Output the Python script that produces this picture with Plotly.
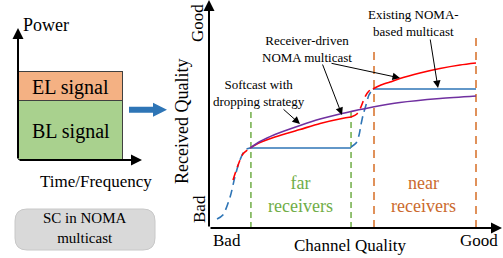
import plotly.graph_objects as go

# ---------------- data (conceptual units) ----------------
# left schematic: superposition coding power split
layer_names = ["BL signal", "EL signal"]
layer_power = [2.0, 1.0]
layer_colors = ["#A9D18E", "#F4B183"]

# main chart: channel quality (x) vs received quality (y)
blue_rise_x = [0.030, 0.052, 0.079, 0.097, 0.116, 0.135, 0.154]
blue_rise_y = [0.045, 0.065, 0.155, 0.255, 0.340, 0.390, 0.400]
red_rise_x = [0.090, 0.109, 0.127, 0.154]
red_rise_y = [0.240, 0.315, 0.370, 0.400]

blue_far_x = [0.154, 0.532]
blue_far_y = [0.400, 0.400]
red_far_x = [0.154, 0.191, 0.247, 0.341, 0.416, 0.498, 0.532]
red_far_y = [0.400, 0.4275, 0.455, 0.4925, 0.5225, 0.5475, 0.555]

blue_mid_x = [0.532, 0.551, 0.562, 0.569, 0.577, 0.588, 0.599, 0.614]
blue_mid_y = [0.405, 0.425, 0.465, 0.515, 0.565, 0.615, 0.665, 0.695]
red_mid_x = [0.532, 0.554, 0.569, 0.584, 0.599, 0.614]
red_mid_y = [0.555, 0.570, 0.605, 0.655, 0.685, 0.695]

blue_near_x = [0.614, 1.0]
blue_near_y = [0.695, 0.695]
red_near_x = [0.614, 0.640, 0.678, 0.715, 0.790, 0.865, 0.940, 1.0]
red_near_y = [0.695, 0.7125, 0.730, 0.7475, 0.775, 0.7975, 0.815, 0.825]

purple_x = [0.154, 0.191, 0.247, 0.341, 0.416, 0.498, 0.532, 0.614, 0.715, 0.865, 1.0]
purple_y = [0.400, 0.4325, 0.4675, 0.5125, 0.545, 0.5725, 0.5825, 0.605, 0.6275, 0.6475, 0.660]

far_bounds_x = [0.157, 0.532]
far_bounds_top = [0.600, 0.595]
near_bounds_x = [0.618, 1.0]
near_bounds_top = [0.905, 0.975]

# ---------------- styling helpers ----------------
W, H = 503, 258
FONT = "Liberation Serif, Times New Roman, DejaVu Serif, serif"
BLUE, RED, PURPLE = "#2E75B6", "#FF0000", "#7030A0"
GREEN, ORANGE, ORANGE_TXT = "#70AD47", "#E0915A", "#CB6A2E"
DY = 1  # text vertical nudge (px)


def X(px):
    return (px - 209) / 267


def Y(py):
    return (228 - py) / 200


def PX(px):
    return px / W


def PY(py):
    return 1 - py / H


fig = go.Figure()

# stacked power bars (left schematic)
for name, p, c in zip(layer_names, layer_power, layer_colors):
    fig.add_trace(go.Bar(x=[0.5], y=[p], width=[1], name=name,
                         marker=dict(color=c, line=dict(color="#404040", width=1.2)),
                         xaxis="x2", yaxis="y2", hoverinfo="skip"))


def line(x, y, color, dash="solid", width=1.6, shape="spline"):
    fig.add_trace(go.Scatter(x=x, y=y, mode="lines", xaxis="x", yaxis="y",
                             line=dict(color=color, width=width, dash=dash, shape=shape,
                                       smoothing=0.8),
                             hoverinfo="skip"))


# region boundaries
for bx, bt in zip(far_bounds_x, far_bounds_top):
    line([bx, bx], [0, bt], GREEN, dash="6px,4px", width=1.5, shape="linear")
for bx, bt in zip(near_bounds_x, near_bounds_top):
    line([bx, bx], [0, bt], ORANGE, dash="8px,6px", width=2, shape="linear")

line(blue_rise_x, blue_rise_y, BLUE, dash="8px,5px")
line(red_rise_x, red_rise_y, RED, dash="8px,5px")
line(blue_far_x, blue_far_y, BLUE, shape="linear")
line(red_far_x, red_far_y, RED)
line(blue_mid_x, blue_mid_y, BLUE, dash="8px,5px")
line(red_mid_x, red_mid_y, RED, dash="8px,5px")
line(blue_near_x, blue_near_y, BLUE, shape="linear")
line(red_near_x, red_near_y, RED)
line(purple_x, purple_y, PURPLE)

ann = []


def txt(text, px, py, size, color="black", angle=0, xanchor="center"):
    ann.append(dict(text=text, x=PX(px), y=PY(py + DY), xref="paper", yref="paper",
                    showarrow=False, textangle=angle, xanchor=xanchor, yanchor="middle",
                    font=dict(family=FONT, size=size, color=color)))


def arrow(x0, y0, x1, y1, xr, yr, width=1, size=1.5, head=2):
    ann.append(dict(text="", x=x1, y=y1, ax=x0, ay=y0, xref=xr, yref=yr,
                    axref=xr, ayref=yr, showarrow=True, arrowhead=head,
                    arrowsize=size, arrowwidth=width, arrowcolor="black", standoff=0))


# axes with arrowheads
arrow(0, 0, 0, Y(0), "x", "y", width=2, size=1.1)
arrow(0, 0, X(502), 0, "x", "y", width=2, size=1.1)
arrow(0, 0, 0, 4.475, "x2", "y2", width=2, size=1.1)
arrow(0, 0, (142 - 18) / 105, 0, "x2", "y2", width=2, size=1.1)

# callout arrows
arrow(X(282), Y(108), X(300), Y(124), "x", "y")
arrow(X(322), Y(63), X(342), Y(115), "x", "y")
arrow(X(330), Y(63), X(400), Y(78), "x", "y")
arrow(X(430), Y(38), X(438), Y(88), "x", "y")

# text inside bars, placed from the data
cum = 0
for name, p in zip(layer_names, layer_power):
    ann.append(dict(text=name, x=0.5, y=cum + p / 2, xref="x2", yref="y2", showarrow=False,
                    yshift=-DY,
                    font=dict(family=FONT, size=20, color="black")))
    cum += p

txt("Power", 21, 24, 18, xanchor="left")
txt("Time/Frequency", 96, 180, 17)
txt("SC in NOMA<br>multicast", 85, 226.5, 15)

txt("Good", 197, 22, 17, angle=-90)
txt("Received Quality", 182, 121, 18, angle=-90)
txt("Bad", 199, 208, 17, angle=-90)
txt("Bad", 227, 239, 17)
txt("Channel Quality", 350, 244, 17)
txt("Good", 479, 239, 17)

txt("far<br>receivers", 300, 193.5, 18, color=GREEN)
txt("near<br>receivers", 423, 193.5, 18, color=ORANGE_TXT)

txt("Softcast with<br>dropping strategy", 259, 92, 13)
txt("Receiver-driven<br>NOMA multicast", 307, 48, 13)
txt("Existing NOMA-<br>based multicast", 413, 22, 13)


def rounded_rect(x0, y0, x1, y1, r):
    rx, ry = r / W, r / H
    a, b, c, d = PX(x0), PY(y1), PX(x1), PY(y0)
    return (f"M {a+rx},{b} L {c-rx},{b} Q {c},{b} {c},{b+ry} L {c},{d-ry} "
            f"Q {c},{d} {c-rx},{d} L {a+rx},{d} Q {a},{d} {a},{d-ry} "
            f"L {a},{b+ry} Q {a},{b} {a+rx},{b} Z")


def block_arrow(x0, x1, yc, shaft_h, head_w, head_h):
    xs = x1 - head_w
    pts = [(x0, yc - shaft_h / 2), (xs, yc - shaft_h / 2), (xs, yc - head_h / 2), (x1, yc),
           (xs, yc + head_h / 2), (xs, yc + shaft_h / 2), (x0, yc + shaft_h / 2)]
    return "M " + " L ".join(f"{PX(px)},{PY(py)}" for px, py in pts) + " Z"


shapes = [
    dict(type="path", path=rounded_rect(15, 209, 155, 250, 12), xref="paper", yref="paper",
         fillcolor="#D9D9D9", line=dict(color="#C8C8C8", width=1), layer="below"),
    dict(type="path", path=block_arrow(129, 167, 109.7, 6, 14, 14), xref="paper", yref="paper",
         fillcolor=BLUE, line=dict(width=0)),
]

ax_common = dict(visible=False, showgrid=False, zeroline=False, fixedrange=True)
fig.update_layout(
    width=W, height=H, margin=dict(l=0, r=0, t=0, b=0),
    paper_bgcolor="white", plot_bgcolor="white", showlegend=False,
    font=dict(family=FONT),
    barmode="stack", bargap=0,
    xaxis=dict(domain=[209 / W, 1], range=[0, (W - 209) / 267], anchor="y", **ax_common),
    yaxis=dict(domain=[30 / H, 1], range=[0, 228 / 200], anchor="x", **ax_common),
    xaxis2=dict(domain=[18 / W, 145 / W], range=[0, 127 / 105], anchor="y2", **ax_common),
    yaxis2=dict(domain=[98 / H, 230 / H], range=[0, 4.475], anchor="x2", **ax_common),
    annotations=ann, shapes=shapes,
)

fig.write_html("out.html", config={"displayModeBar": False},
               post_script="document.body.style.margin='0';document.body.style.overflow='hidden';")
